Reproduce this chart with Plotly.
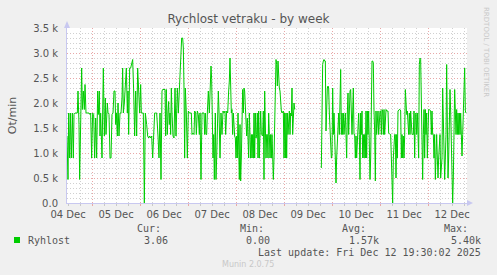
import pandas as pd
import plotly.graph_objects as go

# ---------------- data ----------------
start_time = "2025-12-04 11:30"
end_time = "2025-12-12 19:30"

minutes = [
    0, 30, 50, 80, 100, 130, 160, 190, 210, 240, 270, 310, 330, 360, 380, 410, 440, 460, 490, 520,
    540, 570, 610, 660, 690, 710, 740, 770, 800, 830, 860, 890, 920, 940, 970, 990, 1010, 1030, 1050, 1070,
    1090, 1120, 1150, 1170, 1190, 1210, 1230, 1260, 1290, 1320, 1350, 1380, 1410, 1440, 1460, 1480, 1510, 1530, 1560, 1590,
    1620, 1650, 1670, 1690, 1720, 1750, 1780, 1810, 1830, 1850, 1880, 1910, 1940, 1970, 2000, 2030, 2060, 2090, 2120, 2150,
    2180, 2210, 2230, 2260, 2290, 2320,
    2350, 2390, 2420, 2450, 2480, 2510, 2540, 2570, 2600, 2630, 2660, 2690, 2730, 2760, 2790, 2820, 2850, 2870, 2940, 2960,
    2980, 3010, 3030, 3050, 3070, 3090, 3110, 3130, 3150, 3180, 3210, 3240, 3270, 3290, 3310, 3340, 3370, 3390, 3420, 3440,
    3470, 3490, 3510, 3530, 3550, 3580, 3610, 3640, 3670, 3700, 3730, 3750, 3780, 3810, 3830, 3860, 3880, 3910, 3940, 3970,
    3990, 4020, 4050, 4080, 4110, 4130, 4150, 4170, 4190, 4210, 4240, 4270, 4300, 4320, 4340, 4360, 4380, 4400, 4420, 4450,
    4470, 4490, 4510, 4540, 4560, 4590, 4620, 4650, 4680,
    4710, 4740, 4760, 4790, 4820, 4850, 4870, 4890, 4910, 4930, 4950, 4970, 4990, 5010, 5030, 5050, 5070, 5090, 5110, 5130,
    5150, 5170, 5190, 5210, 5230, 5250, 5270, 5290, 5310, 5330, 5350, 5370, 5390, 5410, 5430, 5450, 5470, 5490, 5510, 5530,
    5550, 5570, 5590, 5610, 5630, 5650, 5670, 5690, 5710, 5730, 5750, 5770, 5790, 5810, 5830, 5850, 5870, 5890, 5910, 5930,
    5950, 5970, 5990, 6010, 6030, 6050, 6070, 6090, 6110, 6130, 6150, 6170, 6190, 6210, 6230, 6250, 6270, 6290, 6310, 6330,
    6350, 6370, 6390, 6410, 6430, 6450, 6470, 6490, 6510, 6530, 6550, 6570, 6590, 6610, 6630, 6650, 6670, 6690, 6710, 6730,
    6750, 6770, 6790, 6810, 6830,
    7000,
    7630, 7650, 7670, 7690, 7710, 7730, 7750, 7770, 7790, 7810, 7830, 7850, 7870, 7890, 7910, 7930, 7950, 7970, 7990, 8010,
    8030, 8050, 8070, 8090, 8110, 8130, 8150, 8170, 8190, 8210, 8230, 8250, 8270, 8290, 8310, 8330, 8350, 8370, 8390, 8410,
    8430, 8450, 8470, 8490, 8510, 8530, 8550, 8570, 8590, 8610, 8630, 8650, 8670, 8690, 8710, 8730, 8750, 8770, 8790, 8810,
    8830, 8850, 8870, 8890, 8910, 8930, 8950, 8970, 8990, 9010, 9030, 9050, 9070, 9090, 9110, 9130, 9150, 9170, 9190, 9210,
    9230, 9250, 9270, 9290, 9310, 9330, 9350, 9370, 9390, 9410, 9430, 9450, 9470, 9490, 9510, 9530, 9550,
    9570, 9590, 9610, 9630, 9650, 9670, 9690, 9710, 9730, 9750, 9770, 9790, 9810, 9830, 9850, 9870, 9890, 9910, 9930, 9950,
    9970, 9990, 10010, 10030, 10050, 10070, 10090, 10110, 10130, 10150, 10170, 10190, 10210, 10230, 10250, 10270, 10290, 10310, 10330, 10350,
    10370, 10390, 10410, 10430, 10450, 10470, 10490, 10510, 10530, 10550, 10570, 10590, 10610, 10630, 10650, 10670, 10690, 10710, 10730, 10750,
    10770, 10790, 10810, 10830, 10850, 10870, 10890, 10910, 10930, 10950, 10970, 10990, 11010, 11030, 11050, 11070, 11090, 11110, 11130, 11150,
    11170, 11190, 11210, 11230, 11250, 11270, 11290, 11310, 11330, 11350, 11370, 11390, 11410, 11430, 11450, 11470, 11490, 11510, 11530, 11550,
    11570, 11590, 11610, 11630, 11650, 11670, 11690, 11710, 11730, 11750, 11770, 11790, 11810, 11830, 11850, 11870, 11890, 11910, 11930, 11950,
    11970,
]

rpm = [
    1340, 470, 1800, 900, 1800, 900, 1800, 900, 1770, 1800, 1800, 1800, 2240, 1570, 470, 2240, 2700, 1870, 2240, 1870,
    2370, 1800, 1800, 1800, 1770, 1800, 900, 1800, 1770, 900, 1700, 900, 2240, 1770, 2240, 1340, 1800, 900, 900, 1800,
    2700, 1340, 2100, 1370, 1770, 2000, 1800, 1770, 900, 900, 1770, 1800, 2240, 2240, 1570, 1800, 1340, 2000, 1340, 1800,
    1800, 2100, 2700, 1800, 2000, 2500, 2700, 1800, 2240, 1370, 2700, 2700, 2800, 2870, 2240, 1340, 2240, 1340, 2700, 2240,
    1800, 2370, 1800, 1800, 1800, 0,
    1800, 1570, 1340, 1300, 1340, 1300, 1340, 900, 1340, 1800, 1800, 1800, 1340, 900, 1800, 470, 2240, 2270, 2270, 1340,
    2270, 1370, 1800, 2030, 1570, 1800, 1370, 2300, 1800, 1340, 1300, 2300, 1340, 1800, 2300, 1800, 2240, 2770, 3270, 3300,
    3300, 3100, 2300, 900, 2300, 1800, 900, 1840, 1800, 1800, 1800, 1370, 1400, 1370, 1840, 1800, 1370, 1840, 1770, 1370,
    1800, 470, 1800, 1800, 1800, 1370, 1800, 1370, 1370, 1800, 2240, 1800, 2270, 2740, 2470, 1800, 900, 1370, 470, 1800,
    470, 900, 1800, 2240, 1840, 900, 1800, 1370, 1840,
    1800, 1840, 1370, 1840, 1800, 2240, 2440, 2900, 2240, 1800, 1870, 1370, 1800, 1370, 1340, 1300, 900, 1340, 900, 1800,
    900, 470, 1570, 440, 900, 2030, 2270, 1800, 2300, 2240, 1870, 1340, 1340, 1700, 1370, 900, 1800, 900, 900, 1370,
    900, 1370, 900, 1800, 900, 1800, 1300, 1370, 1800, 900, 1840, 900, 1370, 1840, 1370, 1340, 1340, 1840, 470, 2240,
    1370, 900, 1370, 1370, 900, 1800, 1370, 900, 1370, 900, 1370, 900, 470, 900, 1800, 2300, 2870, 2770, 2340, 2840,
    2300, 2300, 2240, 1870, 1840, 1800, 1840, 1840, 900, 1800, 900, 1800, 900, 1800, 1370, 1800, 1840, 1370, 1800, 1740,
    2300, 1370, 1800, 2000, 1870,
    None,
    700, 1900, 2770, 2840, 2870, 2840, 2840, 1440, 2240, 2300, 2340, 2300, 1800, 1370, 940, 900, 940, 2300, 1370, 1800,
    1370, 900, 400, 900, 1370, 1800, 1800, 1370, 1800, 2670, 1370, 1800, 1370, 1800, 1370, 1800, 1800, 1370, 900, 1800,
    2200, 1370, 2240, 2240, 2270, 1800, 1370, 1800, 2300, 1370, 1370, 900, 1340, 900, 1370, 1340, 1800, 1370, 470, 1800,
    1370, 1840, 900, 1370, 900, 1370, 900, 1840, 900, 1840, 1370, 1840, 1370, 470, 900, 2200, 2840, 2840, 2800, 1840,
    1440, 440, 1840, 1370, 1570, 1840, 1370, 1840, 1840, 1840, 1370, 1870, 1840, 1370, 1870, 1370, 1840,
    1870, 1840, 1840, 1840, 1400, 1370, 1370, 1370, 900, 500, 0, 900, 1340, 1370, 1370, 500, 1370, 900, 1840, 1870,
    1870, 1870, 1840, 900, 1370, 900, 1340, 900, 1340, 2270, 1770, 1770, 1840, 1370, 1370, 1800, 1370, 1840, 1370, 1370,
    1370, 1370, 1840, 900, 1770, 1800, 1370, 1800, 1370, 900, 2770, 2900, 2870, 1800, 1370, 470, 1370, 1870, 900, 1870,
    1370, 1800, 900, 1800, 1870, 1870, 1840, 1840, 1370, 1840, 1370, 1370, 900, 1370, 470, 900, 1370, 900, 500, 900,
    1370, 1370, 500, 900, 900, 2300, 1840, 1370, 470, 900, 1370, 2770, 1840, 500, 900, 1370, 2270, 1840, 1370, 900,
    0, 500, 1370, 2270, 1840, 1370, 1870, 1370, 1800, 1370, 1800, 1370, 1800, 1370, 940, 1370, 1840, 2270, 2700, 1840,
    1800,
]

series_name = "Ryhlost"
title_text = "Rychlost vetraku - by week"
y_title = "Ot/min"
y_tick_vals = [0, 500, 1000, 1500, 2000, 2500, 3000, 3500]
y_tick_text = ["0.0", "0.5 k", "1.0 k", "1.5 k", "2.0 k", "2.5 k", "3.0 k", "3.5 k"]
stat_labels = ["Cur:", "Min:", "Avg:", "Max:"]
stat_values = ["3.06", "0.00", "1.57k", "5.40k"]
last_update = "Last update: Fri Dec 12 19:30:02 2025"
footer = "Munin 2.0.75"
watermark = "RRDTOOL / TOBI OETIKER"

# ---------------- figure ----------------
W, H = 497, 275
L, R, T, B = 67, 30, 28, 72
PW, PH = W - L - R, H - T - B

def px(xp):
    return (xp - L) / PW

def py(yp):
    return (H - B - yp) / PH

times = pd.Timestamp(start_time) + pd.to_timedelta(minutes, unit="min")

GREEN = "#00CC00"
TXT = "#555555"
MONO = "DejaVu Sans Mono"
SANS = "DejaVu Sans"

fig = go.Figure()
fig.add_trace(go.Scatter(
    x=times, y=rpm, mode="lines", name=series_name,
    line=dict(color=GREEN, width=1), connectgaps=False, showlegend=False,
))

fig.update_layout(
    width=W, height=H,
    margin=dict(l=L, r=R, t=T, b=B, pad=0),
    paper_bgcolor="#F0F0F0", plot_bgcolor="#FFFFFF",
    title=dict(text=title_text, x=0.5, xref="container", xanchor="center",
               y=1 - 19 / H, yref="container", yanchor="middle",
               font=dict(family=SANS, size=12, color=TXT)),
    font=dict(family=SANS, size=10, color=TXT),
    showlegend=False,
)

fig.update_xaxes(
    type="date",
    range=[pd.Timestamp(start_time), pd.Timestamp(end_time)],
    tick0="2025-12-04", dtick=86400000,
    ticklabelmode="period", tickformat="%d %b",
    showgrid=True, gridcolor="#E8A8A8", griddash="1px,2px", gridwidth=1,
    ticks="outside", ticklen=2, tickcolor="#E8A8A8",
    minor=dict(dtick=21600000, showgrid=True, gridcolor="#D0D0D0", griddash="1px,2px",
               ticks="outside", ticklen=2, tickcolor="#C8C8C8"),
    showline=True, linecolor="#C8C8F0", linewidth=1,
    zeroline=False, tickfont=dict(family=SANS, size=10, color=TXT),
    fixedrange=True,
)

fig.update_yaxes(
    range=[0, 3500],
    tickvals=y_tick_vals, ticktext=y_tick_text,
    showgrid=True, gridcolor="#E8A8A8", griddash="1px,2px", gridwidth=1,
    minor=dict(dtick=100, showgrid=True, gridcolor="#D0D0D0", griddash="1px,2px"),
    showline=True, linecolor="#C8C8F0", linewidth=1,
    zeroline=False, ticks="", ticklabelstandoff=6,
    tickfont=dict(family=SANS, size=10, color=TXT),
    title=dict(text=y_title, standoff=14, font=dict(family=SANS, size=11, color=TXT)),
    fixedrange=True,
)

# axis arrows (decoration)
fig.add_shape(type="path", xref="paper", yref="paper",
              path=f"M {px(64)} {py(28)} L {px(70)} {py(28)} L {px(67)} {py(21)} Z",
              fillcolor="#C8C8F0", line=dict(width=0))
fig.add_shape(type="path", xref="paper", yref="paper",
              path=f"M {px(467)} {py(200)} L {px(467)} {py(206)} L {px(473)} {py(203)} Z",
              fillcolor="#C8C8F0", line=dict(width=0))

# legend block
fig.add_shape(type="rect", xref="paper", yref="paper",
              x0=px(14), x1=px(20), y0=py(243), y1=py(237),
              fillcolor=GREEN, line=dict(width=0))
annots = [
    dict(text=series_name, x=px(26), y=py(240), xanchor="left"),
]
label_right = [163, 266, 368, 470]
value_right = [170, 272, 381, 483]
for lab, val, lr, vr in zip(stat_labels, stat_values, label_right, value_right):
    annots.append(dict(text=lab, x=px(lr), y=py(228), xanchor="right"))
    annots.append(dict(text=val, x=px(vr), y=py(240), xanchor="right"))
annots.append(dict(text=last_update, x=px(483), y=py(252), xanchor="right"))
for a in annots:
    fig.add_annotation(xref="paper", yref="paper", yanchor="middle", showarrow=False,
                       font=dict(family=MONO, size=10, color=TXT), **a)

fig.add_annotation(text=footer, xref="paper", yref="paper", x=px(248), y=py(264),
                   xanchor="center", yanchor="middle", showarrow=False,
                   font=dict(family=SANS, size=8, color="#C8C8C8"))
fig.add_annotation(text=watermark, xref="paper", yref="paper", x=px(486), y=py(5),
                   xanchor="center", yanchor="top", textangle=90, showarrow=False,
                   font=dict(family=SANS, size=7, color="#C8C8C8"))

fig.write_html("out.html")
